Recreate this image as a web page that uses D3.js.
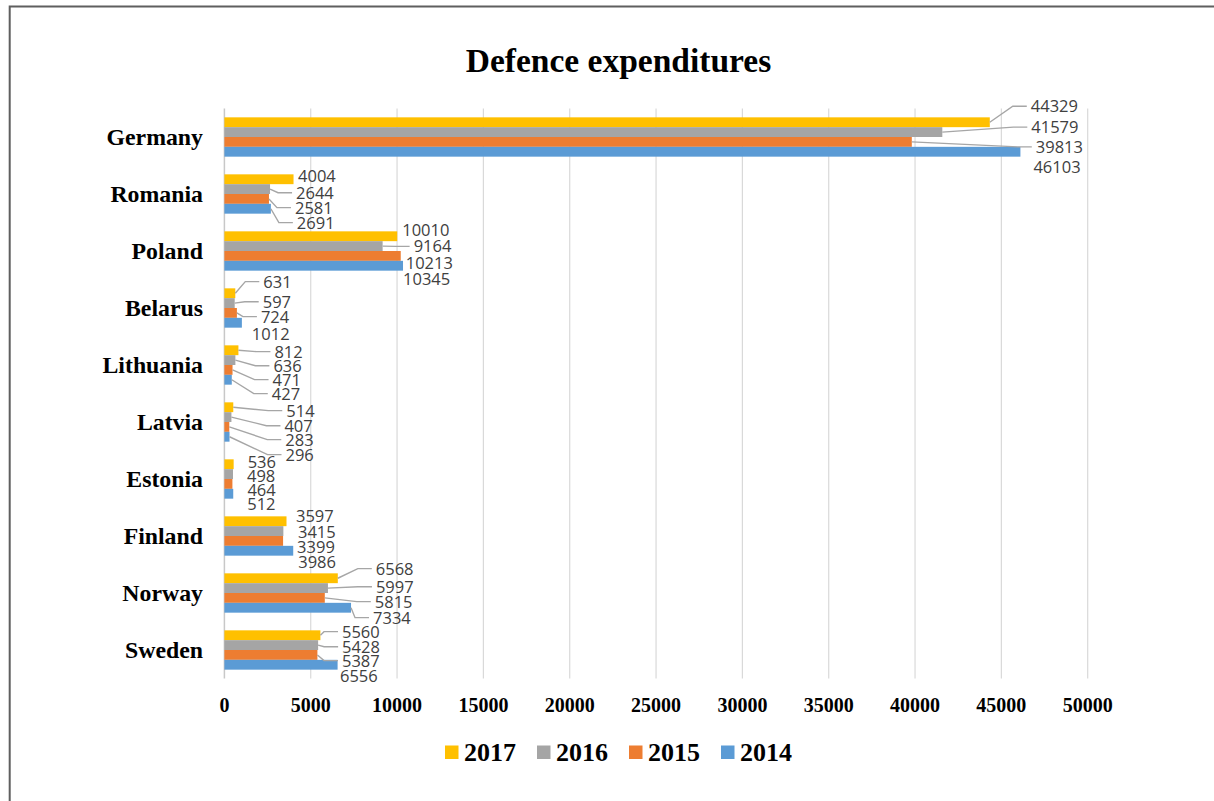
<!DOCTYPE html>
<html>
<head>
<meta charset="utf-8">
<script src="https://cdn.jsdelivr.net/npm/d3@7"></script>
<style>
  body { margin: 0; background: #fff; }
  svg { display: block; }
</style>
</head>
<body>
<div id="chart"></div>
<script>
// data
const countries = ["Germany", "Romania", "Poland", "Belarus", "Lithuania", "Latvia", "Estonia", "Finland", "Norway", "Sweden"]
const years = ["2017", "2016", "2015", "2014"]
const values2017 = [44329, 4004, 10010, 631, 812, 514, 536, 3597, 6568, 5560]
const values2016 = [41579, 2644, 9164, 597, 636, 407, 498, 3415, 5997, 5428]
const values2015 = [39813, 2581, 10213, 724, 471, 283, 464, 3399, 5815, 5387]
const values2014 = [46103, 2691, 10345, 1012, 427, 296, 512, 3986, 7334, 6556]
const xTicks = [0, 5000, 10000, 15000, 20000, 25000, 30000, 35000, 40000, 45000, 50000]

const seriesValues = [values2017, values2016, values2015, values2014]
const colors = ["#FFC000", "#A5A5A5", "#ED7D31", "#5B9BD5"]

// label nudges (px) from the bar end / bar centre, as the labels were dragged in the original
const labelNudge = [
  [[42, -16], [90, -5], [125, 5], [14, 15]],
  [[5.5, -3.6], [27, 3.6], [27, 8.7], [27, 13.9]],
  [[6, -6.6], [32, 0.3], [6, 6.7], [1, 13]],
  [[29, -11.6], [29, -1.4], [25, 3.7], [11, 11]],
  [[37, 1.4], [39, 5.6], [41, 9.7], [41, 13.9]],
  [[54, 3.4], [54, 8.6], [57, 12.7], [57, 17.9]],
  [[15, -2.6], [15, 1.6], [16, 5.7], [15, 9.9]],
  [[10.5, -5.6], [15.6, 0.6], [15, 5.7], [6, 10.9]],
  [[39, -9.6], [49, -1.4], [51, 3.7], [23, 9.9]],
  [[22.6, -3.6], [25, 1.6], [25.6, 5.7], [3.4, 10.9]]
]

const width = 1214
const height = 801
const serif = "'Liberation Serif', 'Times New Roman', serif"
const sans = "'Open Sans', 'Noto Sans', sans-serif"

const svg = d3.select("#chart").append("svg")
  .attr("width", width)
  .attr("height", height)

svg.append("rect").attr("width", width).attr("height", height).attr("fill", "#fff")

// frame of the cropped figure
svg.append("path")
  .attr("d", "M9.7,801 V6.5 H1214")
  .attr("fill", "none")
  .attr("stroke", "#5f5f5f")
  .attr("stroke-width", 2)

svg.append("text")
  .attr("x", 618.5)
  .attr("y", 72)
  .attr("text-anchor", "middle")
  .style("font-family", serif)
  .style("font-weight", "bold")
  .style("font-size", "33.5px")
  .text("Defence expenditures")

const x = d3.scaleLinear().domain([0, 50000]).range([224.4, 1087.7])
const y0 = d3.scaleBand().domain(countries).range([108.5, 678.5]).paddingInner(0.31).paddingOuter(0.155)
const y1 = d3.scaleBand().domain(years).range([0, y0.bandwidth()])

// grid
svg.append("g").selectAll("line")
  .data(xTicks)
  .enter().append("line")
  .attr("x1", d => x(d)).attr("x2", d => x(d))
  .attr("y1", 108.5).attr("y2", 678.5)
  .attr("stroke", d => d === 0 ? "#c8c8c8" : "#d9d9d9")
  .attr("stroke-width", d => d === 0 ? 1.5 : 1.2)

// x tick labels
svg.append("g").selectAll("text")
  .data(xTicks)
  .enter().append("text")
  .attr("x", d => x(d))
  .attr("y", 712)
  .attr("text-anchor", "middle")
  .style("font-family", serif)
  .style("font-weight", "bold")
  .style("font-size", "20px")
  .text(d => d)

// category labels
svg.append("g").selectAll("text")
  .data(countries)
  .enter().append("text")
  .attr("x", 203)
  .attr("y", d => y0(d) + y0.bandwidth() / 2)
  .attr("dy", "0.35em")
  .attr("text-anchor", "end")
  .style("font-family", serif)
  .style("font-weight", "bold")
  .style("font-size", "23.8px")
  .text(d => d)

const points = []
countries.forEach((c, ci) => {
  years.forEach((yr, si) => {
    points.push({ country: c, year: yr, value: seriesValues[si][ci], si: si, ci: ci })
  })
})

svg.append("g").selectAll("rect")
  .data(points)
  .enter().append("rect")
  .attr("x", x(0))
  .attr("y", d => y0(d.country) + y1(d.year))
  .attr("width", d => x(d.value) - x(0))
  .attr("height", y1.bandwidth())
  .attr("fill", d => colors[d.si])

// data labels with leader lines
const lab = svg.append("g")
points.forEach(d => {
  const bx = x(d.value)
  const by = y0(d.country) + y1(d.year) + y1.bandwidth() / 2
  const nd = labelNudge[d.ci][d.si]
  const lx = bx + nd[0]
  const ly = by + nd[1]
  if (nd[0] > 20) {
    const ex = lx - 5
    const kx = Math.max(bx + 2, ex - 14)
    lab.append("path")
      .attr("d", `M${bx},${by} L${kx},${ly} L${ex},${ly}`)
      .attr("fill", "none")
      .attr("stroke", "#a6a6a6")
      .attr("stroke-width", 1.4)
  }
  lab.append("text")
    .attr("x", lx - 1)
    .attr("y", ly)
    .attr("dy", "0.36em")
    .style("font-family", sans)
    .style("font-size", "16.5px")
    .attr("fill", "#404040")
    .text(d.value)
})

// legend
const legend = svg.append("g")
let lxPos = 0
years.forEach((yr, i) => {
  const g = legend.append("g")
  g.append("rect").attr("x", 0).attr("y", -7).attr("width", 13.5).attr("height", 13.5).attr("fill", colors[i])
  const t = g.append("text")
    .attr("x", 19)
    .attr("y", 8.5)
    .style("font-family", serif)
    .style("font-weight", "bold")
    .style("font-size", "26px")
    .text(yr)
  g.attr("transform", `translate(${lxPos},0)`)
  lxPos += 19 + t.node().getComputedTextLength() + 21
})
const legendW = lxPos - 21
legend.attr("transform", `translate(${618.5 - legendW / 2},752.5)`)
</script>
</body>
</html>
